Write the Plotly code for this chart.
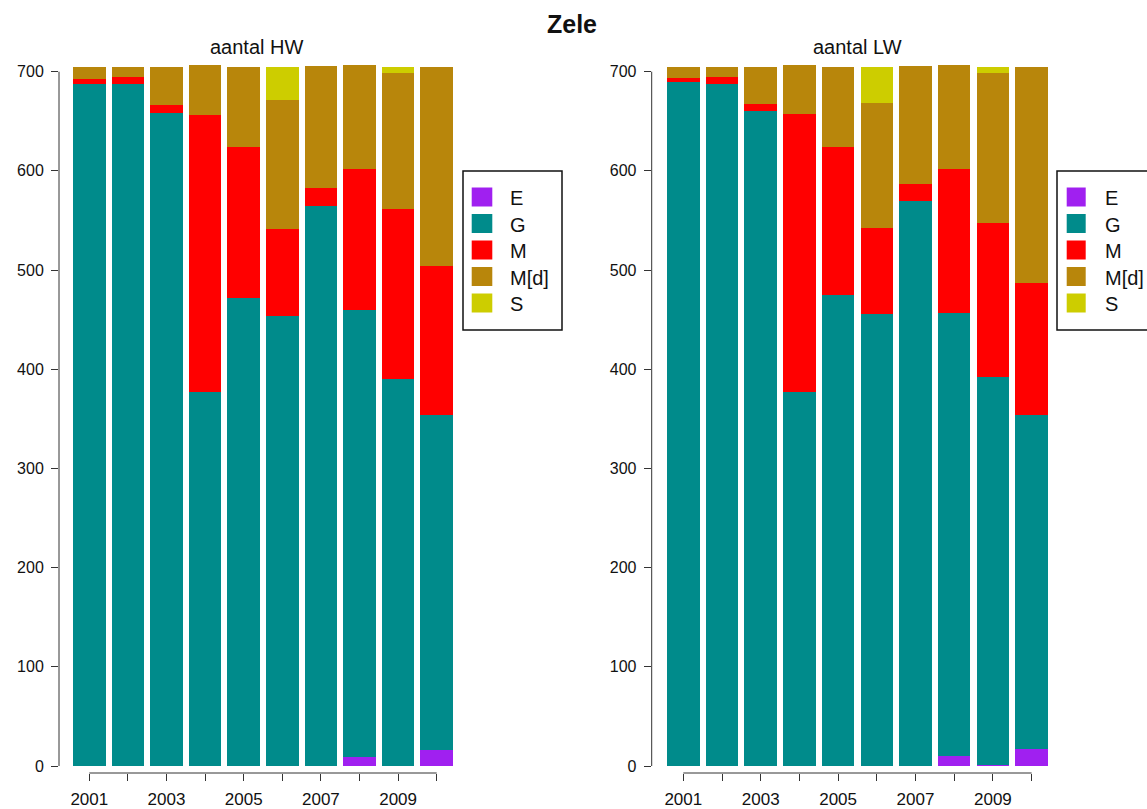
import plotly.graph_objects as go

# ---------------- data ----------------
years = [2001, 2002, 2003, 2004, 2005, 2006, 2007, 2008, 2009, 2010]
categories = ["E", "G", "M", "M[d]", "S"]

# aantal HW
hw_E  = [0,   0,   0,   0,   0,   0,   0,   9,   0,   16]
hw_G  = [688, 688, 658, 377, 472, 454, 565, 451, 390, 338]
hw_M  = [5,   7,   8,   279, 152, 87,  18,  142, 172, 150]
hw_Md = [12,  10,  39,  51,  81,  130, 123, 105, 137, 201]
hw_S  = [0,   0,   0,   0,   0,   34,  0,   0,   6,   0]

# aantal LW
lw_E  = [0,   0,   0,   0,   0,   0,   0,   10,  1,   17]
lw_G  = [690, 688, 660, 377, 475, 456, 570, 447, 391, 337]
lw_M  = [4,   7,   7,   280, 149, 86,  17,  145, 155, 133]
lw_Md = [11,  10,  38,  50,  81,  126, 119, 105, 152, 218]
lw_S  = [0,   0,   0,   0,   0,   37,  0,   0,   6,   0]

colors = {"E": "#A020F0", "G": "#008B8B", "M": "#FF0000", "M[d]": "#B8860B", "S": "#CDCD00"}

yticks = [0, 100, 200, 300, 400, 500, 600, 700]
xtick_labels = [str(y) if i % 2 == 0 else "" for i, y in enumerate(years)]

main_title = "Zele"
panel_titles = ["aantal HW", "aantal LW"]

# ---------------- layout helpers ----------------
W, H = 1147, 809
FONT = "Liberation Sans, Arial, sans-serif"


def fx(p):
    return p / W


def fy(p):
    return 1 - p / H


ppu = (766 - 71.7) / 700.0          # pixels per unit on the y axis
y_range = [-(773 - 766) / ppu, (766 - 52) / ppu]

panels = [
    dict(series=[hw_E, hw_G, hw_M, hw_Md, hw_S], x0=59.0, x1=460.0, first=89.3, pitch=38.6,
         title_x=256, leg_box=(463, 171, 562, 330), sw=(471.7, 492.3), txt=508.3),
    dict(series=[lw_E, lw_G, lw_M, lw_Md, lw_S], x0=651.7, x1=1055.0, first=683.3, pitch=38.7,
         title_x=857, leg_box=(1057, 171, 1160, 330), sw=(1066.7, 1085.7), txt=1102.7),
]

fig = go.Figure()
shapes = []
annotations = []
xpos = list(range(len(years)))

for pi, p in enumerate(panels):
    xa = "x" if pi == 0 else "x2"
    ya = "y" if pi == 0 else "y2"
    for cat, vals in zip(categories, p["series"]):
        fig.add_trace(go.Bar(
            x=xpos, y=vals, name=cat, xaxis=xa, yaxis=ya,
            marker=dict(color=colors[cat], line=dict(width=0)),
            showlegend=False,
        ))

    xr = [(p["x0"] - p["first"]) / p["pitch"], (p["x1"] - p["first"]) / p["pitch"]]
    axis_common = dict(showgrid=False, zeroline=False, showline=False, automargin=False,
                       ticks="outside", ticklen=7, tickwidth=1, tickcolor="#333",
                       tickfont=dict(family=FONT, size=16, color="#111"))
    xkey = "xaxis" if pi == 0 else "xaxis2"
    ykey = "yaxis" if pi == 0 else "yaxis2"
    fig.update_layout({
        xkey: dict(axis_common, domain=[fx(p["x0"]), fx(p["x1"])], range=xr,
                   tickvals=xpos, ticktext=xtick_labels, anchor=ya,
                   tickfont=dict(family=FONT, size=17, color="#111"),
                   ticklabelstandoff=4),
        ykey: dict(axis_common, domain=[fy(773), fy(52)], range=y_range,
                   tickvals=yticks, ticktext=[str(v) for v in yticks], anchor=xa,
                   ticklabelstandoff=4),
    })

    # R-style axis lines (only spanning the tick range)
    shapes.append(dict(type="line", xref=xa, yref="paper", x0=0, x1=len(years) - 1,
                       y0=fy(773), y1=fy(773), line=dict(color="#333", width=1)))
    shapes.append(dict(type="line", xref="paper", yref=ya, x0=fx(p["x0"]), x1=fx(p["x0"]),
                       y0=0, y1=700, line=dict(color="#333", width=1)))

    # panel title
    annotations.append(dict(text=panel_titles[pi], x=fx(p["title_x"]), y=fy(47),
                            xref="paper", yref="paper", showarrow=False,
                            xanchor="center", yanchor="middle",
                            font=dict(family=FONT, size=20, color="#111")))

    # legend box
    bx0, by0, bx1, by1 = p["leg_box"]
    shapes.append(dict(type="rect", xref="paper", yref="paper",
                       x0=fx(bx0), x1=fx(bx1), y0=fy(by1), y1=fy(by0),
                       line=dict(color="#111", width=1.5), fillcolor="rgba(0,0,0,0)"))
    row_y = [197, 223.5, 250, 276.5, 303]
    for cat, ry in zip(categories, row_y):
        shapes.append(dict(type="rect", xref="paper", yref="paper",
                           x0=fx(p["sw"][0]), x1=fx(p["sw"][1]),
                           y0=fy(ry + 9.5), y1=fy(ry - 9.5),
                           line=dict(width=0), fillcolor=colors[cat]))
        annotations.append(dict(text=cat, x=fx(p["txt"]), y=fy(ry + 1),
                                xref="paper", yref="paper", showarrow=False,
                                xanchor="left", yanchor="middle",
                                font=dict(family=FONT, size=20, color="#111")))

annotations.append(dict(text="<b>" + main_title + "</b>", x=fx(572), y=fy(24),
                        xref="paper", yref="paper", showarrow=False,
                        xanchor="center", yanchor="middle",
                        font=dict(family=FONT, size=25, color="#111")))

fig.update_layout(
    width=W, height=H,
    margin=dict(l=0, r=0, t=0, b=0, autoexpand=False),
    paper_bgcolor="white", plot_bgcolor="white",
    barmode="stack", bargap=0.16,
    shapes=shapes, annotations=annotations,
    showlegend=False,
)

# remove the default page margin so the figure fills the 1147x809 window exactly
fig.write_html("out.html",
               config={"displayModeBar": False},
               post_script="document.body.style.margin='0';document.body.style.overflow='hidden';")
